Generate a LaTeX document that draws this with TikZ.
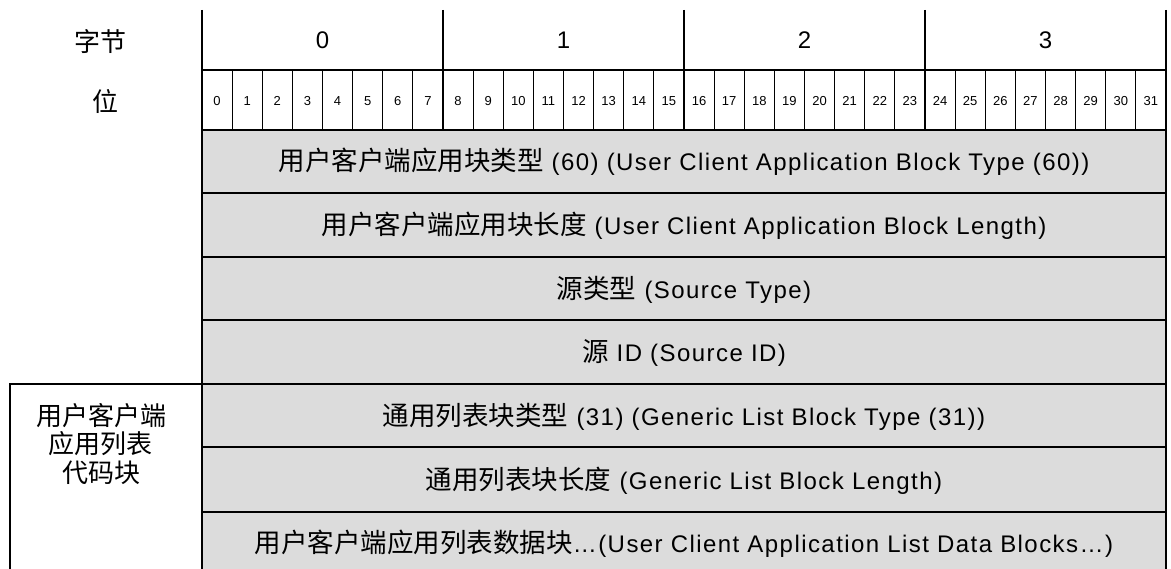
\documentclass[tikz,border=0pt]{standalone}
\usepackage{fontspec}
\setmainfont{Liberation Sans}
\newfontfamily\latinwide[LetterSpace=6]{Liberation Sans}
\newfontfamily\cjk{Noto Sans CJK SC}
\newcommand{\zh}[1]{{\cjk\fontsize{26.5}{30}\selectfont #1}}
\definecolor{cellgray}{HTML}{DCDCDC}
\begin{document}
\begin{tikzpicture}[x=1pt,y=-1pt,
  thickline/.style={line width=2.2pt},
  thinline/.style={line width=1pt},
  midline/.style={line width=1.6pt},
  rowtext/.style={inner sep=0pt,font=\latinwide\fontsize{24}{28}\selectfont},
  bytetext/.style={inner sep=0pt,font=\fontsize{24}{28}\selectfont},
  bittext/.style={inner sep=0pt,font=\fontsize{13}{15}\selectfont},
  sidetext/.style={inner sep=0pt,align=center,font=\cjk\fontsize{26}{28.5}\selectfont}]
\useasboundingbox (0,0) rectangle (1171,569);
\fill[cellgray] (202,130) rectangle (1166,569);
% bit separators
\foreach \i in {1,...,31} {
  \draw[thinline] ({202+\i*30.125},70) -- ({202+\i*30.125},130);
}
% byte separators
\foreach \x in {202,443,684,925} {
  \draw[thickline] (\x,10) -- (\x,130);
}
\draw[midline] (1166,10) -- (1166,130);
% horizontal lines
\draw[thickline] (202,70) -- (1166,70);
\foreach \y in {130,193,257,320,384,447} {
  \draw[thickline] (202,\y) -- (1166,\y);
}
\draw[midline] (202,512) -- (1166,512);
% outer verticals of the body
\draw[thickline] (202,130) -- (202,569);
\draw[thickline] (1166,130) -- (1166,569);
% left box
\draw[thickline] (10,569) -- (10,384) -- (202,384);
% header labels
\node[sidetext] (lbyte) at (100,42) {字节};
\node[sidetext] (lbit) at (105,102) {位};
\foreach \b/\x in {0/322.5,1/563.5,2/804.5,3/1045.5} {
  \node[bytetext] (byte\b) at (\x,40) {\b};
}
\foreach \i in {0,...,31} {
  \node[bittext] (bit\i) at ({202+(\i+0.5)*30.125},101) {\i};
}
% row texts
\node[rowtext] (r1) at (684,162) {\zh{用户客户端应用块类型} (60) (User Client Application Block Type (60))};
\node[rowtext] (r2) at (684,226) {\zh{用户客户端应用块长度} (User Client Application Block Length)};
\node[rowtext] (r3) at (684,290) {\zh{源类型} (Source Type)};
\node[rowtext] (r4) at (684,353) {\zh{源} ID (Source ID)};
\node[rowtext] (r5) at (684,417) {\zh{通用列表块类型} (31) (Generic List Block Type (31))};
\node[rowtext] (r6) at (684,481) {\zh{通用列表块长度} (Generic List Block Length)};
\node[rowtext] (r7) at (684,544) {\zh{用户客户端应用列表数据块}…(User Client Application List Data Blocks…)};
% side label
\node[sidetext] (side) at (101,444) {用户客户端\\应用列表\\代码块};
\end{tikzpicture}
\end{document}
